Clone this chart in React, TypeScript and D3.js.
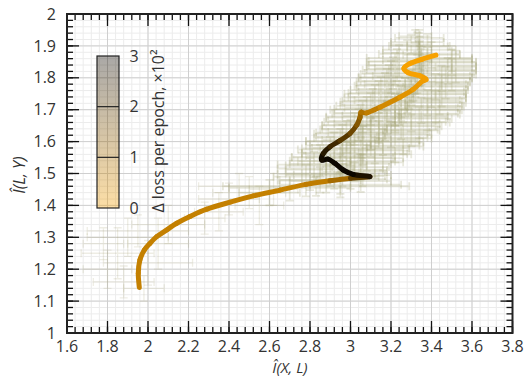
import React from 'react';
import * as d3 from 'd3';

const W = 525;
const H = 378;
const margin = { top: 14, right: 12.5, bottom: 45, left: 67 };
const FONT = '"Open Sans", "DejaVu Sans", sans-serif';

// axis tick labels
const xTickLabels = ['1.6', '1.8', '2', '2.2', '2.4', '2.6', '2.8', '3', '3.2', '3.4', '3.6', '3.8'];
const yTickLabels = ['1', '1.1', '1.2', '1.3', '1.4', '1.5', '1.6', '1.7', '1.8', '1.9', '2'];
const cbTickLabels = ['0', '1', '2', '3'];

// smoothed trajectory: I(X,L), I(L,Y) and Δ loss per epoch (×10²)
const lineX = [1.957, 1.952, 1.960, 1.982, 2.010, 2.043, 2.092, 2.142, 2.207, 2.290, 2.405, 2.520, 2.652, 2.78, 2.899, 3.0, 3.096,
  3.014, 2.964, 2.923, 2.89, 2.858, 2.866, 2.899, 2.948, 2.998, 3.031, 3.047, 3.052, 3.08,
  3.146, 3.244, 3.31, 3.352, 3.373, 3.343, 3.285, 3.264, 3.294, 3.352, 3.422];
const lineY = [1.143, 1.187, 1.229, 1.260, 1.281, 1.302, 1.323, 1.344, 1.365, 1.388, 1.410, 1.430, 1.448, 1.466, 1.477, 1.485, 1.49,
  1.497, 1.511, 1.532, 1.545, 1.542, 1.563, 1.584, 1.603, 1.626, 1.652, 1.676, 1.692, 1.690,
  1.708, 1.739, 1.764, 1.788, 1.795, 1.806, 1.816, 1.830, 1.845, 1.858, 1.871];
const lineLoss = [0.65, 0.65, 0.65, 0.65, 0.65, 0.65, 0.65, 0.65, 0.65, 0.65, 0.65, 0.65, 0.65, 0.65, 0.8, 1.3, 2.6,
  3, 3, 3, 3, 3, 2.8, 2.5, 2.2, 1.9, 1.6, 1.3, 1.0, 0.8,
  0.6, 0.35, 0.2, 0.1, 0.1, 0, 0, 0, 0, 0, 0];

// raw estimates with error bars: [x, y, xerr, yerr]
const upperBars: number[][] = [
  [2.83, 1.460, 0.46, 0.03], [2.70, 1.455, 0.30, 0.04], [2.95, 1.465, 0.30, 0.04], [2.60, 1.440, 0.15, 0.04],
  [2.85, 1.480, 0.20, 0.04], [3.00, 1.482, 0.18, 0.03], [2.78, 1.478, 0.14, 0.05], [2.95, 1.476, 0.25, 0.04],
  [2.90, 1.500, 0.22, 0.04], [3.02, 1.505, 0.16, 0.03], [2.80, 1.498, 0.16, 0.05], [2.96, 1.495, 0.24, 0.035],
  [2.88, 1.525, 0.20, 0.05], [3.05, 1.520, 0.14, 0.04], [2.95, 1.530, 0.25, 0.03], [2.82, 1.528, 0.18, 0.04],
  [2.96, 1.550, 0.25, 0.05], [3.08, 1.548, 0.18, 0.04], [2.88, 1.552, 0.17, 0.03], [3.00, 1.556, 0.22, 0.04],
  [3.00, 1.575, 0.26, 0.05], [3.12, 1.572, 0.17, 0.04], [2.92, 1.578, 0.16, 0.05], [3.05, 1.580, 0.24, 0.03],
  [3.06, 1.600, 0.28, 0.05], [3.16, 1.598, 0.20, 0.04], [2.96, 1.602, 0.18, 0.05], [3.10, 1.605, 0.24, 0.03],
  [3.10, 1.625, 0.28, 0.05], [3.20, 1.622, 0.20, 0.04], [3.00, 1.628, 0.17, 0.04], [3.14, 1.630, 0.25, 0.035],
  [3.14, 1.650, 0.28, 0.05], [3.25, 1.648, 0.20, 0.04], [3.04, 1.652, 0.18, 0.05], [3.18, 1.656, 0.26, 0.04],
  [3.18, 1.675, 0.30, 0.05], [3.30, 1.672, 0.20, 0.04], [3.06, 1.678, 0.18, 0.05], [3.22, 1.680, 0.26, 0.03],
  [3.22, 1.700, 0.32, 0.05], [3.35, 1.698, 0.20, 0.04], [3.10, 1.702, 0.18, 0.05], [3.25, 1.706, 0.28, 0.04],
  [3.25, 1.725, 0.30, 0.05], [3.38, 1.722, 0.19, 0.04], [3.12, 1.728, 0.16, 0.05], [3.28, 1.730, 0.26, 0.04],
  [3.27, 1.750, 0.30, 0.05], [3.40, 1.748, 0.17, 0.04], [3.15, 1.752, 0.16, 0.05], [3.30, 1.756, 0.26, 0.04],
  [3.30, 1.775, 0.28, 0.05], [3.42, 1.772, 0.16, 0.04], [3.18, 1.778, 0.15, 0.05], [3.32, 1.780, 0.25, 0.04],
  [3.32, 1.800, 0.28, 0.05], [3.45, 1.798, 0.15, 0.04], [3.20, 1.802, 0.16, 0.05], [3.35, 1.806, 0.24, 0.04],
  [3.34, 1.825, 0.28, 0.05], [3.48, 1.822, 0.14, 0.04], [3.22, 1.828, 0.14, 0.05], [3.36, 1.830, 0.24, 0.04],
  [3.35, 1.850, 0.27, 0.04], [3.50, 1.848, 0.12, 0.04], [3.24, 1.852, 0.15, 0.05], [3.38, 1.856, 0.22, 0.04],
  [3.34, 1.875, 0.20, 0.04], [3.28, 1.878, 0.12, 0.04], [3.40, 1.872, 0.14, 0.04],
  [3.34, 1.900, 0.15, 0.04], [3.30, 1.905, 0.10, 0.03], [3.38, 1.898, 0.10, 0.04],
  [3.34, 1.925, 0.12, 0.025], [3.32, 1.930, 0.08, 0.02],
  [2.88, 1.490, 0.26, 0.05], [3.05, 1.492, 0.12, 0.05],
  [2.92, 1.512, 0.24, 0.06], [2.76, 1.515, 0.12, 0.05], [3.06, 1.510, 0.12, 0.05],
  [2.98, 1.538, 0.24, 0.06], [2.85, 1.540, 0.15, 0.05], [3.12, 1.535, 0.14, 0.05],
  [3.02, 1.562, 0.26, 0.06], [2.90, 1.565, 0.14, 0.05], [3.16, 1.560, 0.14, 0.05],
  [3.06, 1.588, 0.28, 0.06], [2.95, 1.590, 0.15, 0.05], [3.22, 1.585, 0.14, 0.05],
  [3.10, 1.612, 0.28, 0.06], [2.98, 1.615, 0.15, 0.05], [3.26, 1.610, 0.14, 0.05],
  [3.14, 1.638, 0.29, 0.06], [3.02, 1.640, 0.16, 0.05], [3.30, 1.635, 0.14, 0.05],
  [3.17, 1.662, 0.30, 0.06], [3.05, 1.665, 0.16, 0.05], [3.34, 1.660, 0.15, 0.05],
  [3.22, 1.688, 0.31, 0.06], [3.08, 1.690, 0.16, 0.05], [3.38, 1.685, 0.16, 0.05],
  [3.24, 1.712, 0.31, 0.06], [3.11, 1.715, 0.16, 0.05], [3.42, 1.710, 0.14, 0.05],
  [3.27, 1.738, 0.30, 0.06], [3.14, 1.740, 0.15, 0.05], [3.44, 1.735, 0.13, 0.05],
  [3.29, 1.762, 0.29, 0.06], [3.17, 1.765, 0.14, 0.05], [3.45, 1.760, 0.12, 0.05],
  [3.31, 1.788, 0.28, 0.06], [3.19, 1.790, 0.14, 0.05], [3.47, 1.785, 0.12, 0.05],
  [3.33, 1.812, 0.28, 0.06], [3.21, 1.815, 0.14, 0.05], [3.50, 1.810, 0.12, 0.05],
  [3.35, 1.838, 0.27, 0.06], [3.23, 1.840, 0.14, 0.05], [3.52, 1.835, 0.10, 0.05],
  [3.34, 1.862, 0.26, 0.05], [3.50, 1.860, 0.10, 0.04],
  [3.34, 1.888, 0.18, 0.04], [3.33, 1.912, 0.13, 0.03],
];
const lowerBars: number[][] = [
  [1.90, 1.30, 0.20, 0.06], [1.85, 1.25, 0.18, 0.08], [2.00, 1.22, 0.22, 0.07], [1.95, 1.32, 0.25, 0.05],
  [1.80, 1.20, 0.12, 0.06], [2.05, 1.28, 0.15, 0.08], [1.88, 1.16, 0.15, 0.05], [2.10, 1.34, 0.18, 0.06],
  [1.78, 1.28, 0.10, 0.05], [1.98, 1.14, 0.10, 0.04],
  [2.40, 1.42, 0.15, 0.05], [2.50, 1.44, 0.18, 0.05], [2.35, 1.38, 0.12, 0.06], [2.55, 1.40, 0.12, 0.06],
  [2.45, 1.46, 0.20, 0.04], [2.62, 1.45, 0.12, 0.05], [2.28, 1.36, 0.10, 0.05],
];

const x = d3.scaleLinear().domain([1.6, 3.8]).range([margin.left, W - margin.right]);
const y = d3.scaleLinear().domain([1, 2]).range([H - margin.bottom, margin.top]);
const color = d3.scaleLinear<string>().domain([0, 3]).range(['#f7a100', '#0c0700']).interpolate(d3.interpolateRgb);
const cb = d3.scaleLinear().domain([0, 3]).range([208, 56]);

function segPath(px: number[], py: number[], i: number) {
  const n = px.length;
  const i0 = Math.max(0, i - 1), i3 = Math.min(n - 1, i + 2);
  const c1x = px[i] + (px[i + 1] - px[i0]) / 6, c1y = py[i] + (py[i + 1] - py[i0]) / 6;
  const c2x = px[i + 1] - (px[i3] - px[i]) / 6, c2y = py[i + 1] - (py[i3] - py[i]) / 6;
  return `M${px[i]},${py[i]}C${c1x},${c1y} ${c2x},${c2y} ${px[i + 1]},${py[i + 1]}`;
}

function ErrorBars({ data, opacity, width }: { data: number[][]; opacity: number; width: number }) {
  const cap = 4;
  return (
    <g stroke="#a8a676" strokeWidth={width} strokeOpacity={opacity} fill="none">
      {data.map(([cx, cy, ex, ey], i) => {
        const x0 = x(cx - ex), x1 = x(cx + ex), xc = x(cx);
        const y0 = y(cy - ey), y1 = y(cy + ey), yc = y(cy);
        return (
          <path key={i}
            d={`M${x0},${yc}H${x1}M${xc},${y0}V${y1}` +
              `M${x0},${yc - cap}V${yc + cap}M${x1},${yc - cap}V${yc + cap}` +
              `M${xc - cap},${y0}H${xc + cap}M${xc - cap},${y1}H${xc + cap}`} />
        );
      })}
    </g>
  );
}

export default function App() {
  const [x0, x1] = x.range();
  const [yb, yt] = y.range();
  const xMinor = d3.range(1.6, 3.8001, 0.04);
  const yMinor = d3.range(1, 2.0001, 0.02);
  const xMajor = xTickLabels.map(Number);
  const yMajor = yTickLabels.map(Number);
  const px = lineX.map(v => x(v));
  const py = lineY.map(v => y(v));

  return (
    <svg width={W} height={H} style={{ position: 'absolute', left: 0, top: 0, background: '#fff' }}
      fontFamily={FONT}>
      <defs>
        <linearGradient id="cbgrad" x1="0" y1="1" x2="0" y2="0">
          {[0, 0.5, 1, 1.5, 2, 2.5, 3].map(v => (
            <stop key={v} offset={v / 3} stopColor={color(v)} stopOpacity={0.35} />
          ))}
        </linearGradient>
        <clipPath id="plot"><rect x={x0} y={yt} width={x1 - x0} height={yb - yt} /></clipPath>
      </defs>

      {/* grid */}
      <g>
        {xMinor.map((v, i) => <line key={'xm' + i} x1={x(v)} x2={x(v)} y1={yt} y2={yb} stroke="#ececec" strokeWidth={1} />)}
        {yMinor.map((v, i) => <line key={'ym' + i} x1={x0} x2={x1} y1={y(v)} y2={y(v)} stroke="#ececec" strokeWidth={1} />)}
        {xMajor.map((v, i) => <line key={'xM' + i} x1={x(v)} x2={x(v)} y1={yt} y2={yb} stroke="#cfcfcf" strokeWidth={1} />)}
        {yMajor.map((v, i) => <line key={'yM' + i} x1={x0} x2={x1} y1={y(v)} y2={y(v)} stroke="#cfcfcf" strokeWidth={1} />)}
      </g>

      <g clipPath="url(#plot)">
        <ErrorBars data={lowerBars} opacity={0.2} width={1.3} />
        <ErrorBars data={upperBars} opacity={0.26} width={1.8} />
        <g fill="none" strokeWidth={5} strokeLinecap="round">
          {px.slice(0, -1).map((_, i) => (
            <path key={i} d={segPath(px, py, i)} stroke={color((lineLoss[i] + lineLoss[i + 1]) / 2)} />
          ))}
        </g>
      </g>

      {/* colorbar */}
      <g>
        <rect x={97} y={cb(3)} width={22} height={cb(0) - cb(3)} fill="url(#cbgrad)" stroke="#222" strokeWidth={1.2} />
        {[1, 2].map(v => <line key={v} x1={97} x2={119} y1={cb(v)} y2={cb(v)} stroke="#222" strokeWidth={1.2} />)}
        {cbTickLabels.map(t => (
          <text key={t} x={134} y={cb(+t)} dy="0.35em" fontSize={16} fill="#333" textAnchor="middle">{t}</text>
        ))}
        <text transform={`translate(158,${cb(1.5) - 1}) rotate(-90)`} fontSize={16} fill="#333" textAnchor="middle"
          dy="0.35em">Δ loss per epoch, ×10²</text>
      </g>

      {/* ticks */}
      <g stroke="#111" strokeWidth={1.3}>
        {xMinor.map((v, i) => (
          <g key={'xt' + i}>
            <line x1={x(v)} x2={x(v)} y1={yb} y2={yb - 6} />
            <line x1={x(v)} x2={x(v)} y1={yt} y2={yt + 6} />
          </g>
        ))}
        {xMajor.map((v, i) => (
          <g key={'xT' + i}>
            <line x1={x(v)} x2={x(v)} y1={yb} y2={yb - 12} />
            <line x1={x(v)} x2={x(v)} y1={yt} y2={yt + 12} />
          </g>
        ))}
        {yMinor.map((v, i) => (
          <g key={'yt' + i}>
            <line x1={x0} x2={x0 + 6} y1={y(v)} y2={y(v)} />
            <line x1={x1} x2={x1 - 6} y1={y(v)} y2={y(v)} />
          </g>
        ))}
        {yMajor.map((v, i) => (
          <g key={'yT' + i}>
            <line x1={x0} x2={x0 + 12} y1={y(v)} y2={y(v)} />
            <line x1={x1} x2={x1 - 12} y1={y(v)} y2={y(v)} />
          </g>
        ))}
      </g>
      <rect x={x0} y={yt} width={x1 - x0} height={yb - yt} fill="none" stroke="#222" strokeWidth={2} />

      {/* tick labels */}
      <g fontSize={16} fill="#333">
        {xTickLabels.map(t => (
          <text key={t} x={x(+t)} y={yb + 19} textAnchor="middle">{t}</text>
        ))}
        {yTickLabels.map(t => (
          <text key={t} x={x0 - 11} y={y(+t)} dy="0.35em" textAnchor="end">{t}</text>
        ))}
      </g>

      {/* axis titles */}
      <text x={290} y={373} fontSize={15} fill="#333" textAnchor="middle" fontStyle="italic">Î(X, L)</text>
      <text transform="translate(25,175) rotate(-90)" fontSize={16} fill="#333" textAnchor="middle"
        fontStyle="italic">Î(L, Y)</text>
    </svg>
  );
}
